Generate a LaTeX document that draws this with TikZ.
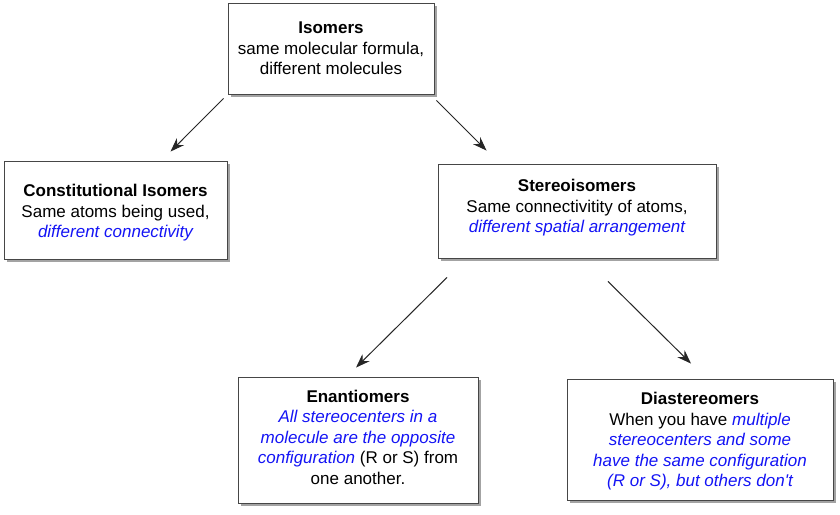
\documentclass[tikz,border=0pt]{standalone}
\usepackage{fontspec}
\setmainfont{Liberation Sans}
\usepackage{xcolor}
\usepackage{tikz}
\usetikzlibrary{positioning, arrows.meta, shadows}
\definecolor{linkblue}{RGB}{20,20,245}
\definecolor{boxline}{RGB}{70,70,70}
\newcommand{\bluetext}[1]{\textcolor{linkblue}{\itshape #1}}
\newcommand{\topgap}[1]{\rule{0pt}{#1}}
\newcommand{\botgap}[1]{\rule[-#1]{0pt}{0pt}}

\begin{document}
\begin{tikzpicture}[x=1pt, y=-1pt,
  box/.style={draw=boxline, line width=0.9pt, fill=white, align=center,
    inner sep=0pt, font=\fontsize{17}{20.5}\selectfont,
    drop shadow={shadow xshift=3pt, shadow yshift=-3pt, fill=black!45, opacity=0.8}},
  arr/.style={-{Stealth[length=14pt, width=10pt]}, line width=1pt, black!85}]
\fill[white] (0,0) rectangle (840,514);
\useasboundingbox (0,0) rectangle (840,514);

\node[box, minimum width=206pt, minimum height=91pt] (iso) at (331,48.5)
  {\textbf{Isomers}\\same molecular formula,\\different molecules};
\node[box, minimum width=223pt, minimum height=98pt] (const) at (115.5,210)
  {\topgap{18.5pt}\textbf{Constitutional Isomers}\\Same atoms being used,\\\bluetext{different connectivity}};
\node[box, minimum width=278pt, minimum height=94pt] (stereo) at (577,211)
  {\textbf{Stereoisomers}\\Same connectivitity of atoms,\\\bluetext{different spatial arrangement}\botgap{10pt}};
\node[box, minimum width=240pt, minimum height=126pt] (enant) at (358,440)
  {\textbf{Enantiomers}\\\bluetext{All stereocenters in a}\\\bluetext{molecule are the opposite}\\\bluetext{configuration} (R or S) from\\one another.\botgap{6pt}};
\node[box, minimum width=266pt, minimum height=121pt] (diast) at (700,439.5)
  {\topgap{16.5pt}\textbf{Diastereomers}\\When you have \bluetext{multiple}\\\bluetext{stereocenters and some}\\\bluetext{have the same configuration}\\\bluetext{(R or S), but others don\textquotesingle t}};

% arrows
\draw[arr] ([shift={(-4,4)}]iso.south west) -- ([shift={(55,-9)}]const.north);
\draw[arr] ([shift={(2,6)}]iso.south east) -- ([shift={(49,-13)}]stereo.north west);
\draw[arr] ([shift={(-130,19)}]stereo.south) -- ([shift={(-2,-9)}]enant.north);
\draw[arr] ([shift={(31,23)}]stereo.south) -- ([shift={(-9,-15)}]diast.north);
\end{tikzpicture}
\end{document}
